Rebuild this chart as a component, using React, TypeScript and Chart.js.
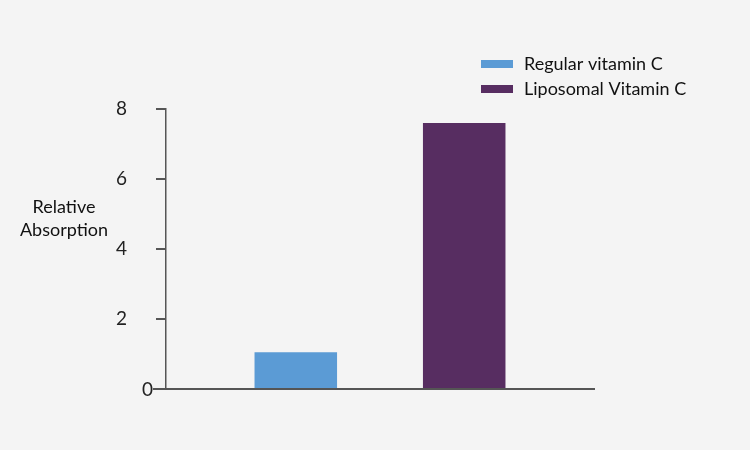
import React, { useEffect, useRef } from "react";
import { Chart, registerables } from "chart.js";

Chart.register(...registerables);

const categories = [""];
const seriesLabels = ["Regular vitamin C", "Liposomal Vitamin C"];
const seriesValues = [1.05, 7.6];
const seriesColors = ["#5b9bd5", "#572d61"];
const yTitleLines = ["Relative", "Absorption"];
const yMin = 0;
const yMax = 8;
const yStep = 2;

const FONT = "Lato, 'Open Sans', sans-serif";

const overlayPlugin = {
  id: "overlay",
  afterDraw(chart: any) {
    const ctx = chart.ctx;
    ctx.save();
    // legend
    ctx.font = `18px ${FONT}`;
    ctx.textBaseline = "middle";
    ctx.textAlign = "left";
    chart.data.datasets.forEach((ds: any, i: number) => {
      const y = 64 + i * 25;
      ctx.fillStyle = ds.backgroundColor;
      ctx.fillRect(481, y - 4, 32, 8);
      ctx.fillStyle = "#111";
      ctx.fillText(ds.label, 524, y);
    });
    // y title
    ctx.textAlign = "center";
    yTitleLines.forEach((t, i) => {
      ctx.fillText(t, 64, 207 + i * 23);
    });
    // zero label (sits beside the axis corner)
    const ys = chart.scales.y;
    const y0 = ys.getPixelForValue(yMin);
    ctx.strokeStyle = "#555";
    ctx.lineWidth = 2;
    ctx.beginPath();
    ctx.moveTo(153, y0);
    ctx.lineTo(166, y0);
    ctx.stroke();
    ctx.font = `19px ${FONT}`;
    ctx.fillStyle = "#222";
    ctx.textAlign = "right";
    ctx.fillText(String(yMin), 153, y0 + 1);
    ctx.restore();
  },
};

export default function App() {
  const ref = useRef<HTMLCanvasElement>(null);
  useEffect(() => {
    const chart = new Chart(ref.current!, {
      type: "bar",
      data: {
        labels: categories,
        datasets: seriesLabels.map((label, i) => ({
          label,
          data: [seriesValues[i]],
          backgroundColor: seriesColors[i],
          borderWidth: 0,
        })),
      },
      options: {
        animation: false,
        responsive: false,
        datasets: { bar: { categoryPercentage: 0.787, barPercentage: 0.49 } },
        layout: { padding: { left: 0, top: 109, right: 156, bottom: 61 } },
        plugins: { legend: { display: false }, tooltip: { enabled: false } },
        scales: {
          x: {
            ticks: { display: false },
            grid: { display: false, drawTicks: false },
            border: { display: true, color: "#555", width: 2 },
            afterFit(scale: any) {
              scale.height = 0;
            },
          },
          y: {
            min: yMin,
            max: yMax,
            ticks: {
              stepSize: yStep,
              color: "#222",
              font: { size: 19, family: FONT },
              padding: 29,
              callback: (v: any) => (v === yMin ? "" : String(v)),
            },
            grid: {
              drawOnChartArea: false,
              drawTicks: true,
              tickLength: 10,
              color: "#555",
              lineWidth: 2,
            },
            border: { display: true, color: "#555", width: 1.5 },
            afterFit(scale: any) {
              scale.width = 166;
            },
          },
        },
      },
      plugins: [overlayPlugin],
    });
    return () => chart.destroy();
  }, []);
  return (
    <div
      style={{
        position: "fixed",
        left: 0,
        top: 0,
        width: 750,
        height: 450,
        background: "#f4f4f4",
      }}
    >
      <canvas ref={ref} width={750} height={450} />
    </div>
  );
}
